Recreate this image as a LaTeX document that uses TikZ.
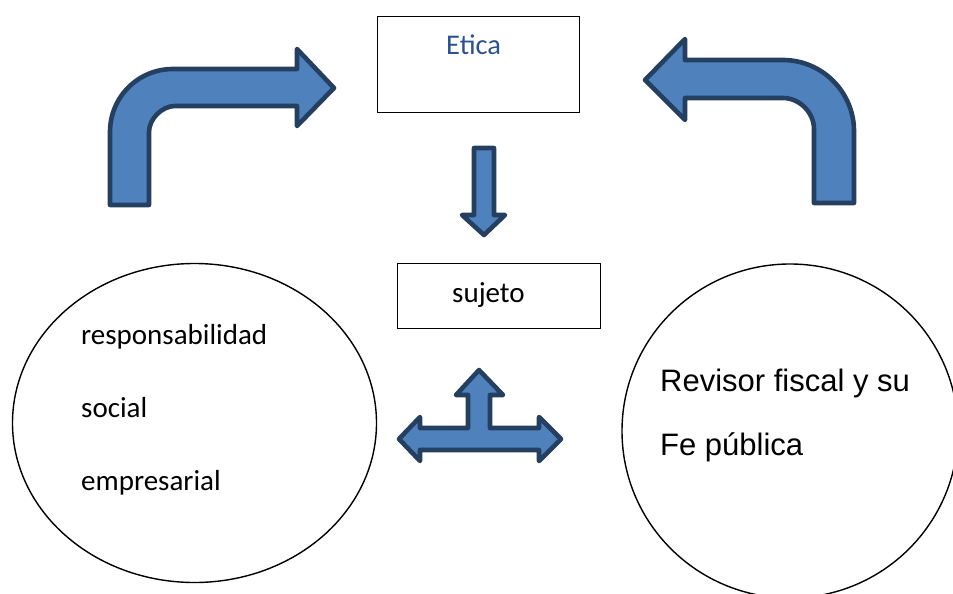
\documentclass[tikz,border=0pt]{standalone}
\usepackage{fontspec}
\setmainfont{Carlito}
\newfontfamily\arialf{Liberation Sans}
\definecolor{arrfill}{HTML}{4F81BD}
\definecolor{arrline}{HTML}{243F60}
\definecolor{eticacol}{HTML}{2B5290}
\begin{document}
\begin{tikzpicture}[x=1pt,y=-1pt,
  shapearrow/.style={fill=arrfill,draw=arrline,line width=4.6pt,line join=round},
  boxnode/.style={draw=black,line width=1.6pt,inner sep=0pt},
  ovalnode/.style={draw=black,line width=1.4pt},
  calibri/.style={font=\fontsize{29}{34}\selectfont,inner sep=0pt,anchor=base west},
  arialtext/.style={font=\arialf\fontsize{31}{36}\selectfont,inner sep=0pt,anchor=base west}]
\useasboundingbox (0,0) rectangle (953,594);
% boxes
\node[boxnode,minimum width=202pt,minimum height=96pt] (etica) at (478.5,64.5) {};
\node[calibri,text=eticacol,font=\fontsize{28.5}{34}\selectfont] (eticat) at (446,55) {Etica};
\node[boxnode,minimum width=203pt,minimum height=65pt] (sujeto) at (499,296) {};
\node[calibri] (sujetot) at (452,302) {sujeto};
% ellipses
\draw[ovalnode] (194.5,423) ellipse [x radius=182,y radius=159.5];
\draw[ovalnode] (790,431) ellipse [x radius=168,y radius=167];
\node[calibri] (rs1) at (81,344) {responsabilidad};
\node[calibri] (rs2) at (81,417) {social};
\node[calibri] (rs3) at (81,490) {empresarial};
\node[arialtext] (rf1) at (660,391) {Revisor fiscal y su};
\node[arialtext] (rf2) at (660,455) {Fe pública};
% left bent arrow
\draw[shapearrow] (110,205) -- (110,132)
  .. controls (110,97) and (138,69) .. (173,69)
  -- (297,69) -- (297,49) -- (334,88) -- (297,126) -- (297,106)
  -- (175,106) .. controls (162,106) and (149,119) .. (149,132)
  -- (149,205) -- cycle;
% right bent arrow
\draw[shapearrow] (645,80) -- (685,39) -- (685,60) -- (783,60)
  .. controls (822,60) and (854,92) .. (854,131)
  -- (854,203) -- (814,203) -- (814,129)
  .. controls (814,113) and (800,98) .. (783,98)
  -- (685,98) -- (685,120) -- cycle;
% down arrow
\draw[shapearrow] (474,148) -- (494,148) -- (494,215) -- (505,215)
  -- (484,235) -- (462,215) -- (474,215) -- cycle;
% T arrow
\draw[shapearrow] (479,370) -- (503,395) -- (490,395) -- (490,428)
  -- (539,428) -- (539,417) -- (561,439) -- (539,461) -- (539,450)
  -- (420,450) -- (420,461) -- (399,439) -- (420,417) -- (420,428)
  -- (468,428) -- (468,395) -- (456,395) -- cycle;
\end{tikzpicture}
\end{document}
